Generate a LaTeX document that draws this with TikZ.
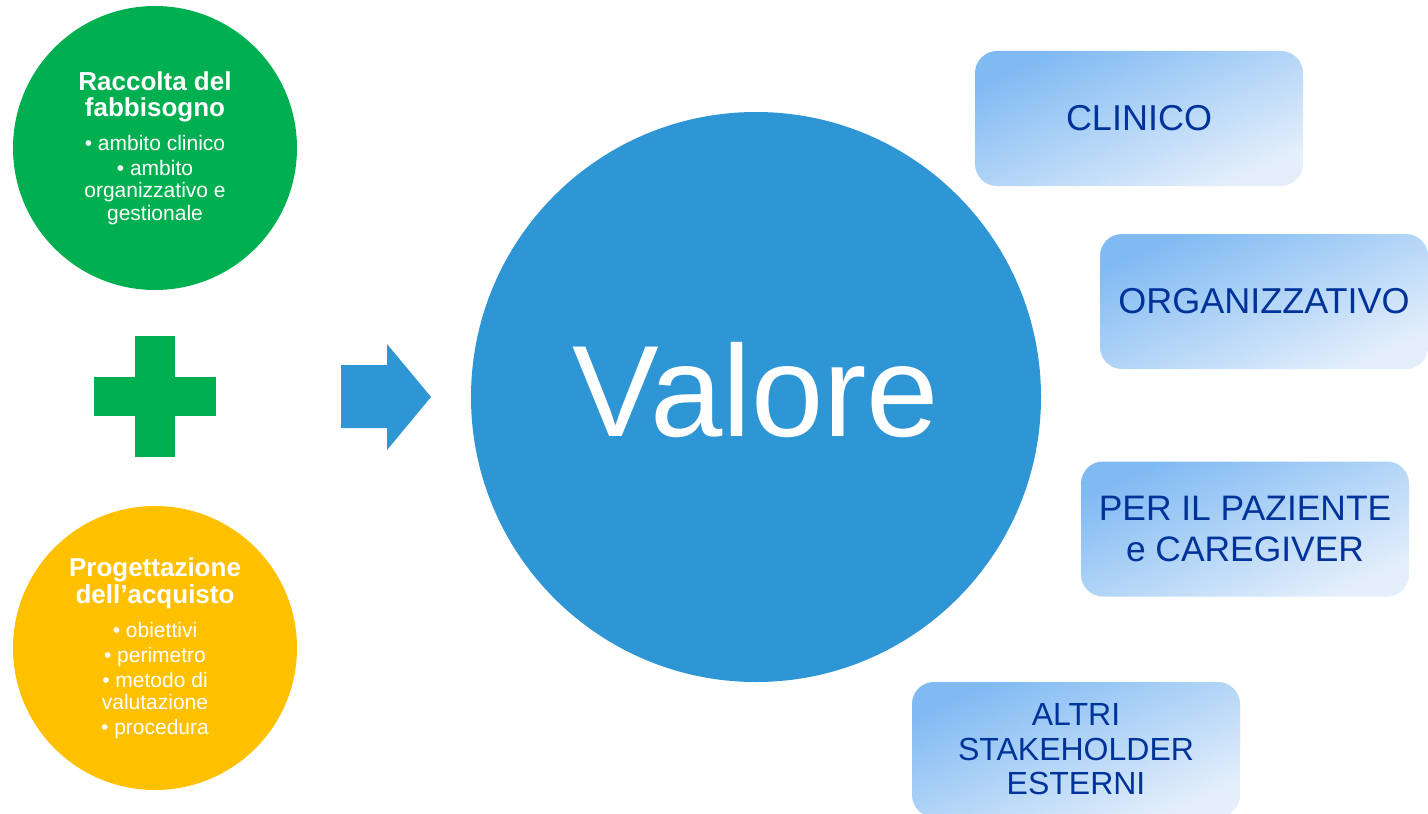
\documentclass[tikz,border=0pt]{standalone}
\usepackage{fontspec}
\setmainfont{Liberation Sans}
\definecolor{verde}{HTML}{00B050}
\definecolor{giallo}{HTML}{FFC000}
\definecolor{azzurro}{HTML}{2E96D4}
\definecolor{blutesto}{HTML}{003399}
\definecolor{boxscuro}{HTML}{80BAF3}
\definecolor{boxchiaro}{HTML}{E4EFFB}
\newcommand{\titolobolla}[1]{{\bfseries\fontsize{13}{13}\selectfont #1}}

\begin{document}
\begin{tikzpicture}[x=.5pt,y=-.5pt]
	\tikzstyle{every node}=[inner sep=0pt]
	\tikzstyle{bolla}=[circle, minimum size=142pt, text=white, align=center, font=\fontsize{10.5}{10.75}\selectfont]
	\tikzstyle{riquadro}=[rounded corners=11pt, minimum width=164pt, minimum height=67.5pt, top color=boxscuro, bottom color=boxchiaro, shading angle=24, text=blutesto, align=center, font=\fontsize{18}{17.25}\selectfont]
	\useasboundingbox (0,0) rectangle (1428,813);
	\clip (0,0) rectangle (1428,813);
	% le due bolle a sinistra
	\draw (155,148) node (raccolta) [bolla, fill=verde] {\titolobolla{Raccolta del}\\[2.25pt] \titolobolla{fabbisogno}\\[6.25pt]
		• ambito clinico\\[2pt] • ambito\\[0.4pt] organizzativo e\\[0.4pt] gestionale};
	\draw (155,648) node (progettazione) [bolla, fill=giallo] {\titolobolla{Progettazione}\\[0.4pt] \titolobolla{dell’acquisto}\\[6.5pt]
		• obiettivi\\[1.75pt] • perimetro\\[1.75pt] • metodo di\\ valutazione\\[1.75pt] • procedura};
	% il segno piu
	\fill[verde] (135,336) rectangle (175,457);
	\fill[verde] (94,377) rectangle (216,416);
	% la freccia
	\fill[azzurro] (341,365) -- (387,365) -- (387,344) -- (431,397) -- (387,450) -- (387,428) -- (341,428) -- cycle;
	% il cerchio centrale
	\draw (756,397) node (valore) [circle, fill=azzurro, minimum size=285pt, text=white, text depth=7.5pt, font=\fontsize{65}{65}\selectfont] {Valore};
	% i quattro riquadri
	\draw (1139,118.5) node (clinico) [riquadro] {CLINICO};
	\draw (1264,301.5) node (organizzativo) [riquadro] {ORGANIZZATIVO};
	\draw (1245,529) node (paziente) [riquadro, font=\fontsize{17.7}{17.25}\selectfont] {PER IL PAZIENTE\\[3.5pt] e CAREGIVER};
	\draw (1076,749.5) node (altri) [riquadro, font=\fontsize{16}{17.25}\selectfont] {ALTRI\\ STAKEHOLDER\\ ESTERNI};
\end{tikzpicture}
\end{document}
